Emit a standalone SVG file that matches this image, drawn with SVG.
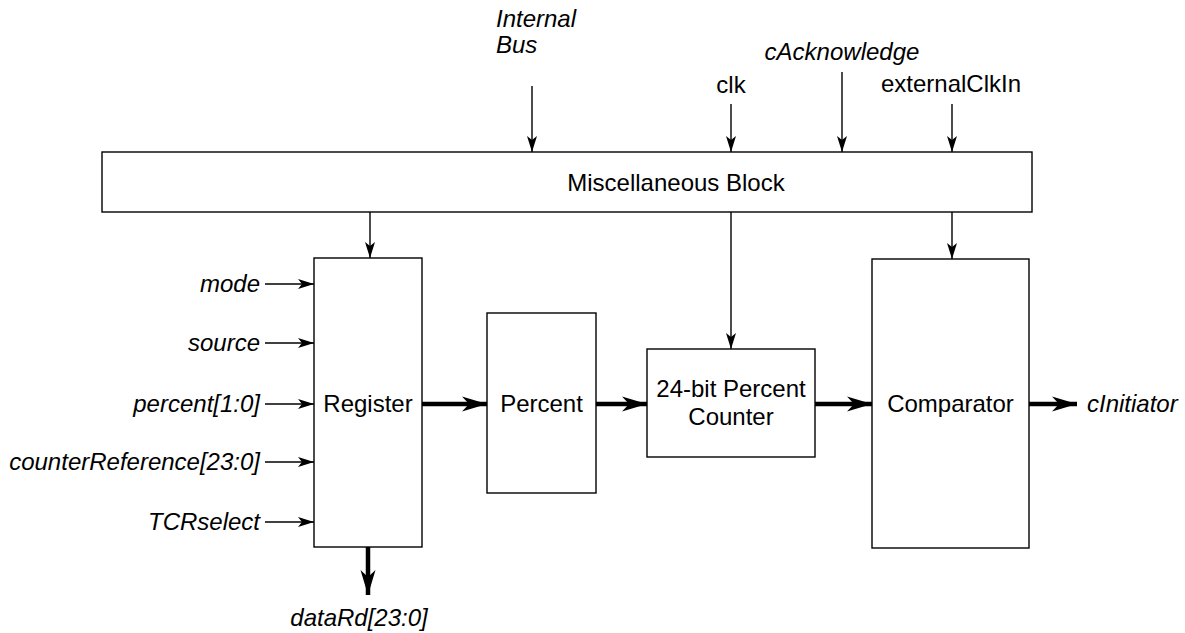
<svg xmlns="http://www.w3.org/2000/svg" width="1185" height="633" viewBox="0 0 1185 633">
<style>
.box{fill:#fff;stroke:#000;stroke-width:1.4}
.t{font-family:"Liberation Sans",Arial,sans-serif;font-size:24px;fill:#000}
.i{font-style:italic}
.thin{stroke:#000;stroke-width:1.4;fill:none;marker-end:url(#ah)}
.thick{stroke:#000;stroke-width:4.5;fill:none;marker-end:url(#ahb)}
</style>
<defs>
<marker id="ah" markerUnits="userSpaceOnUse" markerWidth="18" markerHeight="12" viewBox="-17 -6 18 12" refX="0" refY="0" orient="auto">
<path d="M0,0 L-16,-5 L-12,0 L-16,5 Z" fill="#000"/>
</marker>
<marker id="ahb" markerUnits="userSpaceOnUse" markerWidth="27" markerHeight="18" viewBox="-26 -9 27 18" refX="0" refY="0" orient="auto">
<path d="M0,0 L-25,-7.5 L-18,0 L-25,7.5 Z" fill="#000"/>
</marker>
</defs>
<rect width="1185" height="633" fill="#fff"/>

<g id="connectors">
<line class="thin" x1="532" y1="86" x2="532" y2="152"/>
<line class="thin" x1="731" y1="104" x2="731" y2="152"/>
<line class="thin" x1="842" y1="72" x2="842" y2="152"/>
<line class="thin" x1="952" y1="104" x2="952" y2="152"/>
<line class="thin" x1="370" y1="212" x2="370" y2="258"/>
<line class="thin" x1="731" y1="212" x2="731" y2="349"/>
<line class="thin" x1="952" y1="212" x2="952" y2="259"/>
<line class="thin" x1="265" y1="284" x2="314" y2="284"/>
<line class="thin" x1="265" y1="343" x2="314" y2="343"/>
<line class="thin" x1="265" y1="404" x2="314" y2="404"/>
<line class="thin" x1="265" y1="462" x2="314" y2="462"/>
<line class="thin" x1="265" y1="522" x2="314" y2="522"/>
<line class="thick" x1="422" y1="404" x2="487" y2="404"/>
<line class="thick" x1="596" y1="404" x2="647" y2="404"/>
<line class="thick" x1="815" y1="404" x2="872" y2="404"/>
<line class="thick" x1="1029" y1="404" x2="1077" y2="404"/>
<line class="thick" x1="368" y1="547" x2="368" y2="595"/>
</g>

<g id="misc">
<rect class="box" x="102" y="152" width="930" height="60"/>
<text class="t" x="676" y="190.5" text-anchor="middle">Miscellaneous Block</text>
</g>
<g id="register">
<rect class="box" x="314" y="258" width="108" height="289"/>
<text class="t" x="368" y="412" text-anchor="middle">Register</text>
</g>
<g id="percent">
<rect class="box" x="487" y="313" width="109" height="180"/>
<text class="t" x="541.5" y="412" text-anchor="middle">Percent</text>
</g>
<g id="counter">
<rect class="box" x="647" y="349" width="168" height="108"/>
<text class="t" x="731" y="397" text-anchor="middle">24-bit Percent</text>
<text class="t" x="731" y="424.5" text-anchor="middle">Counter</text>
</g>
<g id="comparator">
<rect class="box" x="872" y="259" width="157" height="289"/>
<text class="t" x="950.5" y="412" text-anchor="middle">Comparator</text>
</g>

<g id="labels">
<text class="t i" x="496" y="27">Internal</text>
<text class="t i" x="496" y="52.5">Bus</text>
<text class="t" x="731" y="92.5" text-anchor="middle">clk</text>
<text class="t i" x="842" y="60" text-anchor="middle">cAcknowledge</text>
<text class="t" x="951" y="92" text-anchor="middle">externalClkIn</text>
<text class="t i" x="260" y="292" text-anchor="end">mode</text>
<text class="t i" x="260" y="351" text-anchor="end">source</text>
<text class="t i" x="260" y="412" text-anchor="end">percent[1:0]</text>
<text class="t i" x="260" y="470" text-anchor="end">counterReference[23:0]</text>
<text class="t i" x="260" y="530" text-anchor="end">TCRselect</text>
<text class="t i" x="1087" y="412">cInitiator</text>
<text class="t i" x="359" y="626" text-anchor="middle">dataRd[23:0]</text>
</g>
</svg>
